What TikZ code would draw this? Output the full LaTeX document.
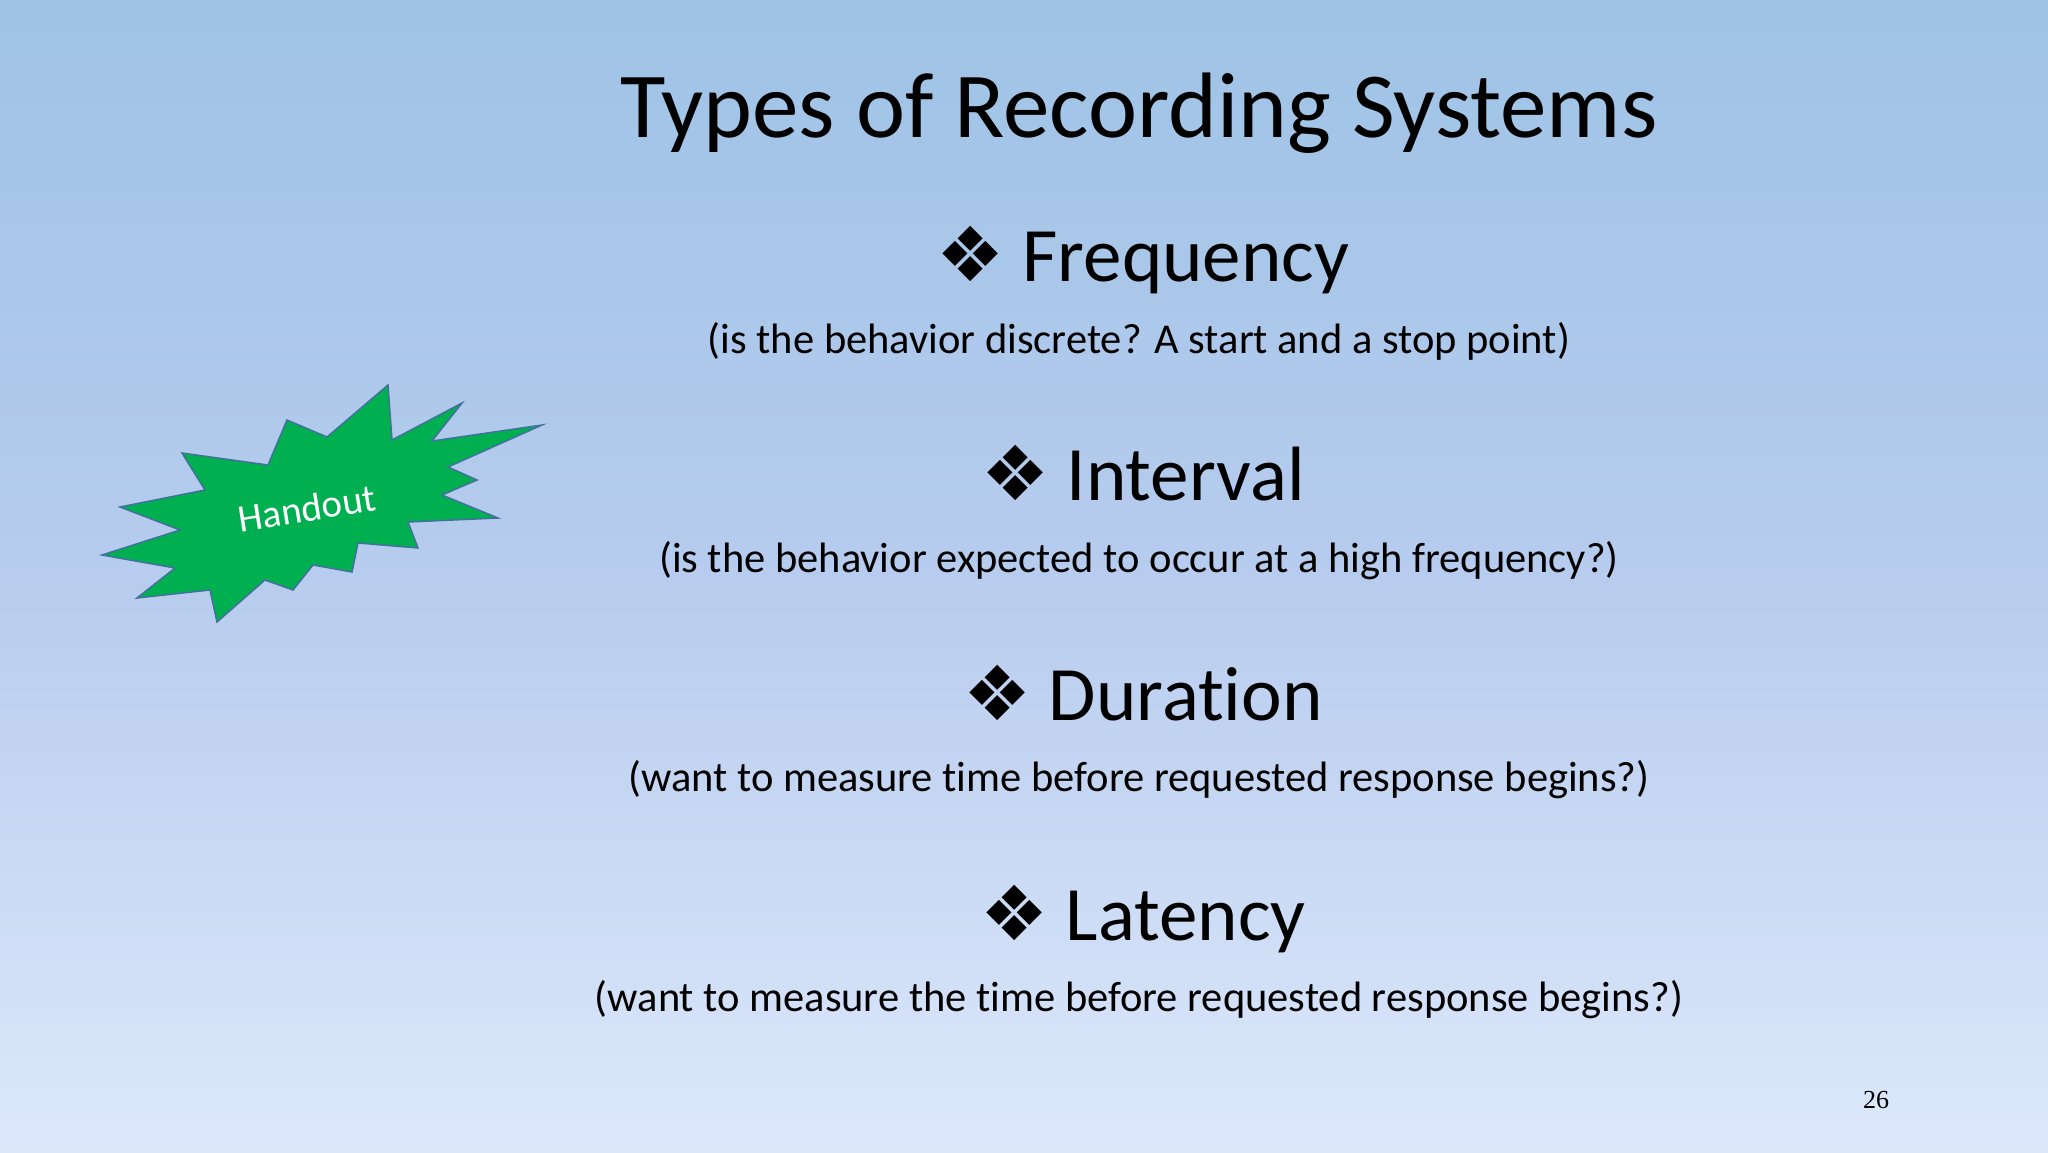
\documentclass[tikz,border=0pt]{standalone}
\usepackage{fontspec}
\setmainfont[RawFeature=-liga]{Carlito}
\newfontfamily\djv{DejaVu Sans}
\newfontfamily\serifnum{Liberation Serif}
\definecolor{bgtop}{HTML}{9EC3E5}
\definecolor{bgmid}{HTML}{B7CCEE}
\definecolor{bgbot}{HTML}{DDE8FB}
\definecolor{burst}{HTML}{00B050}
\definecolor{burstedge}{HTML}{41719C}
\tikzset{
  head/.style={anchor=base,font=\fontsize{77}{80}\selectfont,text=black},
  sub/.style={anchor=base,font=\fontsize{42.5}{46}\selectfont,text=black},
}
\newcommand{\bul}{{\djv\fontsize{76}{78}\selectfont\char"2756}\ }
\begin{document}
\begin{tikzpicture}[x=1pt,y=-1pt]
\shade[top color=bgtop,bottom color=bgbot,middle color=bgmid] (0,0) rectangle (2048,1152);
\useasboundingbox (0,0) rectangle (2048,1152);
\node[anchor=base,font=\fontsize{93}{96}\selectfont] (title) at (1139,137) {Types of Recording Systems};
\node[head] (h1) at (1143,281) {\bul Frequency};
\node[sub] (s1) at (1139,353) {(is the behavior discrete? A start and a stop point)};
\node[head] (h2) at (1143,500) {\bul Interval};
\node[sub] (s2) at (1139,572) {(is the behavior expected to occur at a high frequency?)};
\node[head] (h3) at (1143,720) {\bul Duration};
\node[sub] (s3) at (1139,791) {(want to measure time before requested response begins?)};
\node[head] (h4) at (1143,940) {\bul Latency};
\node[sub] (s4) at (1139,1011) {(want to measure the time before requested response begins?)};
\node[anchor=base,font=\serifnum\fontsize{26}{28}\selectfont] (num) at (1876,1108) {26};
\draw[fill=burst,draw=burstedge,line width=1.5pt,line join=miter]
 (388,385)--(392,440)--(462,403)--(432,441)--(542,425)--(448,467)--(477,480)--(442,495)--(498,518)--(408,522)--(418,548)--(358,543)--(352,572)--(313,565)--(293,590)--(265,580)--(217,622)--(210,590)--(137,598)--(175,568)--(102,555)--(180,530)--(120,507)--(205,490)--(182,453)--(268,465)--(287,420)--(327,437)--cycle;
\node[rotate=9,text=white,font=\fontsize{39}{42}\selectfont] (ho) at (307,508) {Handout};
\end{tikzpicture}
\end{document}
